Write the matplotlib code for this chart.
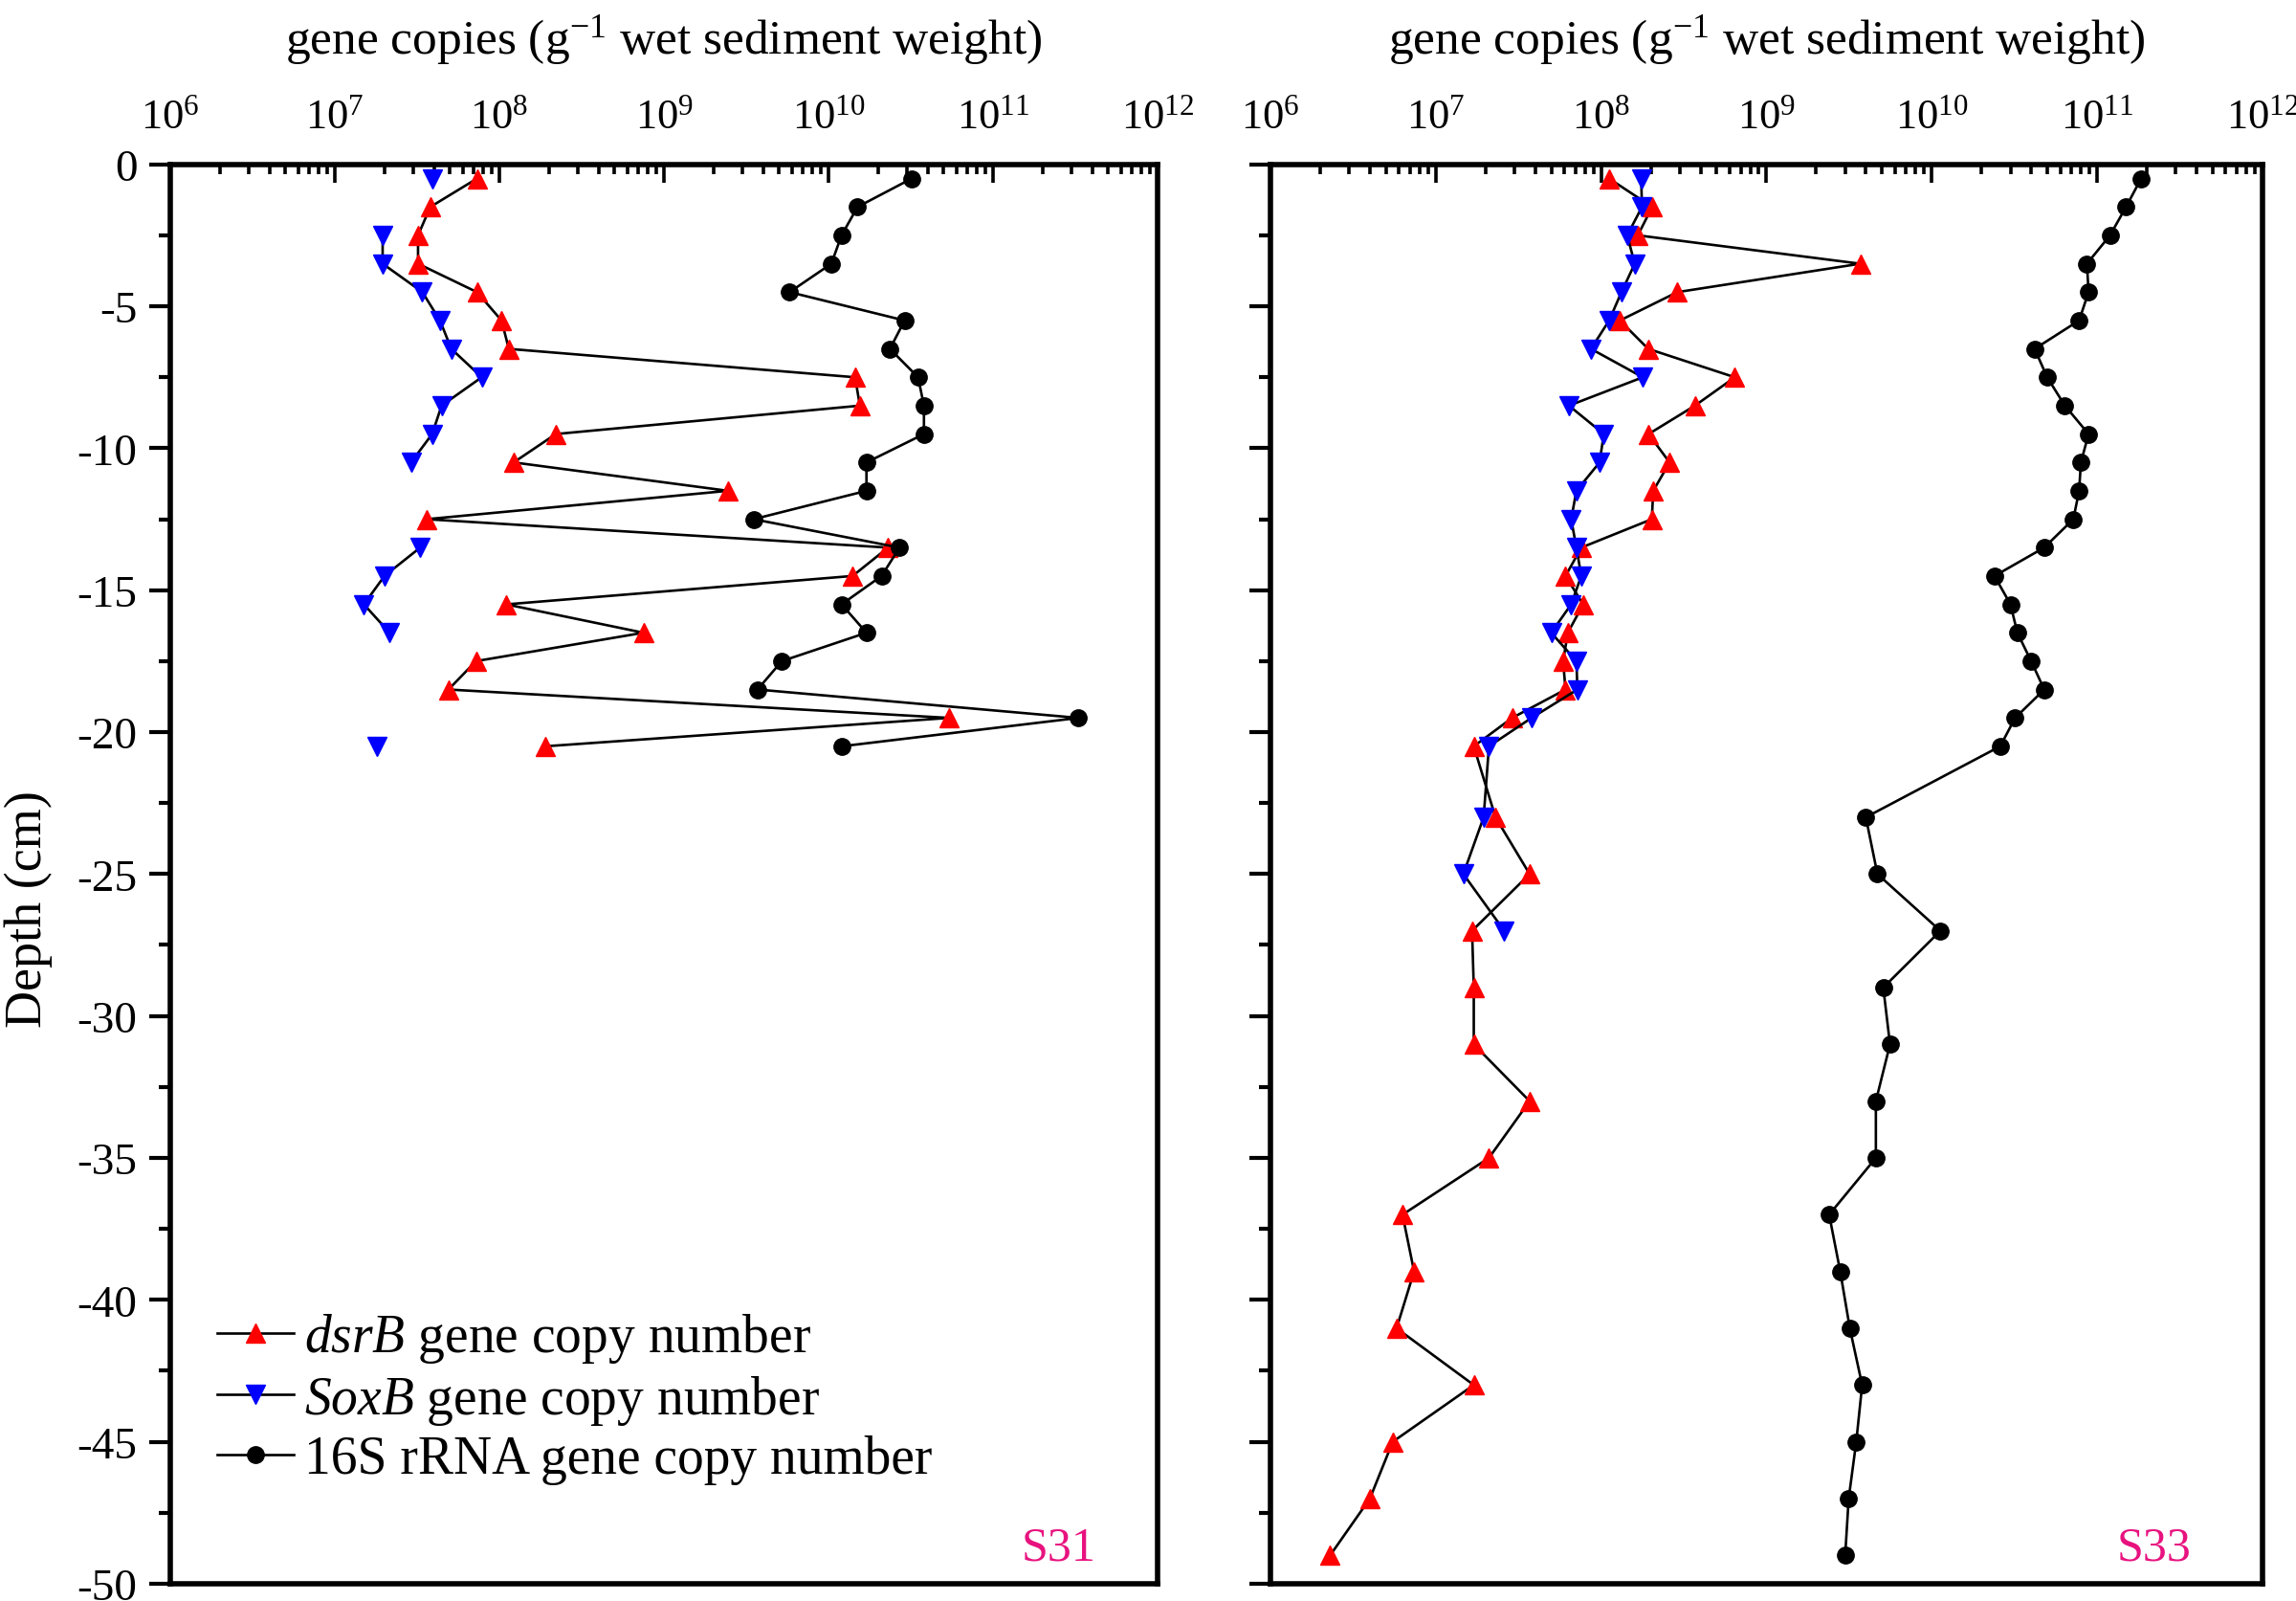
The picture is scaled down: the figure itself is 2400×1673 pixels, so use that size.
import matplotlib
matplotlib.use("Agg")
import matplotlib.pyplot as plt
import numpy as np
from matplotlib.ticker import (LogLocator, LogFormatterMathtext, MultipleLocator,
                               NullFormatter)

plt.rcParams["font.family"] = ["Liberation Serif", "DejaVu Serif"]
plt.rcParams["mathtext.fontset"] = "custom"
plt.rcParams["mathtext.rm"] = "Liberation Serif"
plt.rcParams["mathtext.it"] = "Liberation Serif:italic"
plt.rcParams["axes.unicode_minus"] = False

nan = np.nan

# ── S31 core (1 cm slices) ──
depth_s31 = [-0.5, -1.5, -2.5, -3.5, -4.5, -5.5, -6.5, -7.5, -8.5, -9.5, -10.5,
             -11.5, -12.5, -13.5, -14.5, -15.5, -16.5, -17.5, -18.5, -19.5, -20.5]
dsrb_s31 = [7.3e7, 3.8e7, 3.2e7, 3.2e7, 7.3e7, 1.03e8, 1.14e8, 1.45e10, 1.55e10,
            2.2e8, 1.22e8, 2.45e9, 3.6e7, 2.3e10, 1.4e10, 1.1e8, 7.5e8, 7.2e7,
            4.9e7, 5.4e10, 1.9e8]
soxb_s31 = [3.9e7, nan, 1.95e7, 1.95e7, 3.4e7, 4.35e7, 5.1e7, 7.8e7, 4.45e7,
            3.9e7, 2.9e7, nan, nan, 3.3e7, 2.0e7, 1.5e7, 2.15e7, nan, nan, nan,
            1.8e7]
rrna_s31 = [3.2e10, 1.5e10, 1.2e10, 1.04e10, 5.8e9, 2.9e10, 2.36e10, 3.5e10,
            3.8e10, 3.8e10, 1.7e10, 1.7e10, 3.5e9, 2.7e10, 2.1e10, 1.2e10,
            1.7e10, 5.2e9, 3.7e9, 3.3e11, 1.2e10]

# ── S33 core (1 cm slices to 21 cm, then 2 cm) ──
depth_s33 = [-0.5, -1.5, -2.5, -3.5, -4.5, -5.5, -6.5, -7.5, -8.5, -9.5, -10.5,
             -11.5, -12.5, -13.5, -14.5, -15.5, -16.5, -17.5, -18.5, -19.5, -20.5,
             -23, -25, -27, -29, -31, -33, -35, -37, -39, -41, -43, -45, -47, -49]
dsrb_s33 = [1.12e8, 2.04e8, 1.67e8, 3.7e9, 2.9e8, 1.3e8, 1.93e8, 6.45e8, 3.7e8,
            1.94e8, 2.6e8, 2.07e8, 2.03e8, 7.6e7, 6.1e7, 7.8e7, 6.3e7, 5.9e7,
            6.1e7, 2.9e7, 1.7e7, 2.3e7, 3.7e7, 1.66e7, 1.7e7, 1.7e7, 3.7e7,
            2.1e7, 6.3e6, 7.4e6, 5.8e6, 1.7e7, 5.5e6, 4.0e6, 2.3e6]
soxb_s33 = [1.75e8, 1.77e8, 1.44e8, 1.6e8, 1.33e8, 1.12e8, 8.7e7, 1.79e8, 6.4e7,
            1.04e8, 9.8e7, 7.1e7, 6.6e7, 7.1e7, 7.6e7, 6.6e7, 5.0e7, 7.1e7,
            7.2e7, 3.8e7, 2.1e7, 1.95e7, 1.47e7, 2.6e7]
rrna_s33 = [1.85e11, 1.5e11, 1.2e11, 8.7e10, 8.9e10, 7.8e10, 4.2e10, 5.0e10,
            6.4e10, 8.9e10, 8.0e10, 7.8e10, 7.2e10, 4.8e10, 2.4e10, 3.0e10,
            3.3e10, 4.0e10, 4.8e10, 3.2e10, 2.6e10, 4.0e9, 4.7e9, 1.13e10,
            5.1e9, 5.6e9, 4.6e9, 4.6e9, 2.4e9, 2.8e9, 3.2e9, 3.8e9, 3.5e9,
            3.15e9, 3.0e9]

XLABEL = "gene copies (g$^{-1}$ wet sediment weight)"
SITE_COLOR = "#E8127F"
XTICK_FS = 32
YTICK_FS = 34
LABEL_FS = 37
LEGEND_FS = 40


def style_axis(ax, show_ylabels):
    ax.set_xscale("log")
    ax.set_xlim(1e6, 1e12)
    ax.set_ylim(-50, 0)
    ax.xaxis.set_major_locator(LogLocator(base=10, numticks=10))
    ax.xaxis.set_minor_locator(LogLocator(base=10, subs=np.arange(2, 10), numticks=20))
    ax.xaxis.set_major_formatter(LogFormatterMathtext())
    ax.xaxis.set_minor_formatter(NullFormatter())
    ax.xaxis.tick_top()
    ax.xaxis.set_label_position("top")
    ax.tick_params(axis="x", which="both", direction="in", top=True, bottom=False,
                   labelsize=XTICK_FS, pad=21, width=2.6)
    ax.tick_params(axis="x", which="major", length=14)
    ax.tick_params(axis="x", which="minor", length=7.5)
    ax.yaxis.set_major_locator(MultipleLocator(5))
    ax.yaxis.set_minor_locator(MultipleLocator(2.5))
    ax.tick_params(axis="y", which="both", direction="out", left=True, right=False,
                   labelsize=YTICK_FS, pad=9, width=3.0, labelleft=show_ylabels)
    ax.tick_params(axis="y", which="major", length=16)
    ax.tick_params(axis="y", which="minor", length=9)
    for s in ax.spines.values():
        s.set_linewidth(4.0)
    ax.set_xlabel(XLABEL, fontsize=LABEL_FS, labelpad=34)


def draw_core(ax, depth, dsrb, soxb, rrna):
    line_kw = dict(color="black", lw=1.9)
    ax.plot(dsrb, depth[:len(dsrb)], marker="^", ms=14, mfc="red", mec="red",
            label="$\\mathit{dsrB}$ gene copy number", **line_kw)
    ax.plot(soxb, depth[:len(soxb)], marker="v", ms=14, mfc="blue", mec="blue",
            label="$\\mathit{SoxB}$ gene copy number", **line_kw)
    ax.plot(rrna, depth[:len(rrna)], marker="o", ms=12.5, mfc="black", mec="black",
            label="16S rRNA gene copy number", **line_kw)


fig = plt.figure(figsize=(24, 16.74), dpi=100)
ax1 = fig.add_axes([0.0742, 0.0108, 0.430, 0.886])
ax2 = fig.add_axes([0.5533, 0.0108, 0.432, 0.886])

draw_core(ax1, depth_s31, dsrb_s31, soxb_s31, rrna_s31)
draw_core(ax2, depth_s33, dsrb_s33, soxb_s33, rrna_s33)

style_axis(ax1, True)
style_axis(ax2, False)
ax1.set_ylabel("Depth (cm)", fontsize=LEGEND_FS - 1)
ax1.yaxis.set_label_coords(-0.119, 0.476)

ax1.text(0.937, 0.01, "S31", transform=ax1.transAxes, ha="right", va="bottom",
         fontsize=YTICK_FS + 2, color=SITE_COLOR)
ax2.text(0.928, 0.01, "S33", transform=ax2.transAxes, ha="right", va="bottom",
         fontsize=YTICK_FS + 2, color=SITE_COLOR)

ax1.legend(loc="center left", bbox_to_anchor=(0.047, 0.131), frameon=False,
           fontsize=LEGEND_FS, handlelength=1.45, handletextpad=0.2, borderpad=0,
           borderaxespad=0, labelspacing=0.15, numpoints=1)

fig.savefig("out.png", dpi=100)
plt.close(fig)
